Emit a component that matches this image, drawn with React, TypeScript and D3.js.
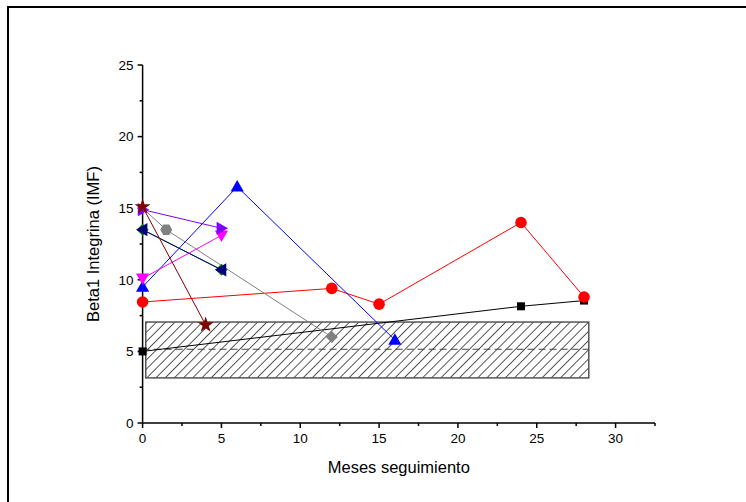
import React from "react";
import * as d3 from "d3";

// series values
const blackX = [0, 24, 28];
const blackY = [5, 8.15, 8.55];
const redX = [0, 12, 15, 24, 28];
const redY = [8.45, 9.4, 8.3, 14, 8.8];
const blueX = [0, 6, 16];
const blueY = [9.5, 16.5, 5.8];
const greenX = [0, 5];
const greenY = [13.5, 10.7];
const navyX = [0, 5];
const navyY = [13.5, 10.7];
const magentaX = [0, 5];
const magentaY = [10.1, 13.1];
const purpleX = [0, 5];
const purpleY = [14.9, 13.6];
const grayX = [0, 1.5, 12];
const grayY = [15, 13.5, 6];
const grayMarks = ["none", "hexagon", "diamond"];
const starX = [0, 4];
const starY = [15.1, 6.85];

// control band
const bandX = [0.2, 28.3];
const bandY = [3.15, 7.05];
const bandMean = 5.15;

const xTicks = [0, 5, 10, 15, 20, 25, 30];
const yTicks = [0, 5, 10, 15, 20, 25];

const W = 746;
const H = 502;

const x = d3.scaleLinear().domain([0, 32.5]).range([142.6, 655]);
const y = d3.scaleLinear().domain([0, 25]).range([423, 65]);

function marker(kind: string, cx: number, cy: number, fill: string, key: string) {
  const s = 6;
  if (kind === "square") return <rect key={key} x={cx - 4} y={cy - 4} width={8} height={8} fill={fill} />;
  if (kind === "circle") return <circle key={key} cx={cx} cy={cy} r={5.8} fill={fill} />;
  if (kind === "none") return null;
  let pts: [number, number][] = [];
  if (kind === "up") pts = [[0, -s * 1.1], [s * 1.1, s * 0.8], [-s * 1.1, s * 0.8]];
  if (kind === "down") pts = [[0, s * 1.1], [s * 1.1, -s * 0.8], [-s * 1.1, -s * 0.8]];
  if (kind === "right") pts = [[s * 1.1, 0], [-s * 0.8, -s * 1.1], [-s * 0.8, s * 1.1]];
  if (kind === "left") pts = [[-s * 1.1, 0], [s * 0.8, -s * 1.1], [s * 0.8, s * 1.1]];
  if (kind === "diamond") pts = [[0, -s], [s, 0], [0, s], [-s, 0]];
  if (kind === "hexagon") pts = d3.range(6).map((i) => [s * Math.cos((Math.PI / 3) * i), s * Math.sin((Math.PI / 3) * i)] as [number, number]);
  if (kind === "star") {
    const sym = d3.symbol(d3.symbolStar, 80)();
    return <path key={key} d={sym || ""} transform={`translate(${cx},${cy})`} fill={fill} />;
  }
  return <polygon key={key} points={pts.map((p) => `${cx + p[0]},${cy + p[1]}`).join(" ")} fill={fill} />;
}

function Series({ xs, ys, color, marks }: { xs: number[]; ys: number[]; color: string; marks: string | string[] }) {
  const line = d3.line<number>().x((_, i) => x(xs[i])).y((d) => y(d));
  return (
    <g>
      <path d={line(ys) || ""} fill="none" stroke={color} strokeWidth={1} />
      {ys.map((v, i) =>
        marker(Array.isArray(marks) ? marks[i] : marks, x(xs[i]), y(v), color, `m${i}`)
      )}
    </g>
  );
}

export default function App() {
  const minorX = d3.range(0, 32.6, 2.5);
  const minorY = d3.range(0, 25.1, 2.5);
  const font = "'Liberation Sans', Arial, sans-serif";
  return (
    <svg width={W} height={H} style={{ position: "absolute", left: 0, top: 0, background: "#fff" }} fontFamily={font}>
      <defs>
        <pattern id="hatch" patternUnits="userSpaceOnUse" width={6.5} height={6.5} patternTransform="rotate(45)">
          <line x1={0} y1={0} x2={0} y2={6.5} stroke="#000" strokeWidth={1.3} />
        </pattern>
      </defs>
      {/* outer frame */}
      <rect x={8} y={7} width={W + 20} height={H + 20} fill="none" stroke="#000" strokeWidth={2} />

      {/* control band */}
      <rect
        x={x(bandX[0])}
        y={y(bandY[1])}
        width={x(bandX[1]) - x(bandX[0])}
        height={y(bandY[0]) - y(bandY[1])}
        fill="url(#hatch)"
        stroke="#555"
        strokeWidth={1.5}
      />
      <line x1={x(0)} x2={x(bandX[1])} y1={y(bandMean)} y2={y(bandMean)} stroke="#444" strokeWidth={1} strokeDasharray="7,4" />

      {/* axes */}
      <g stroke="#000" strokeWidth={1.5}>
        <line x1={x(0)} x2={x(0)} y1={y(0)} y2={y(25)} />
        <line x1={x(0)} x2={x(32.5)} y1={y(0)} y2={y(0)} />
        {minorY.map((t) => (
          <line key={`y${t}`} x1={x(0) - (t % 5 === 0 ? 5 : 3)} x2={x(0)} y1={y(t)} y2={y(t)} />
        ))}
        {minorX.map((t) => (
          <line key={`x${t}`} x1={x(t)} x2={x(t)} y1={y(0)} y2={y(0) + (t % 5 === 0 ? 5 : 3)} />
        ))}
      </g>
      <g fontSize={13.5} fill="#000">
        {yTicks.map((t) => (
          <text key={t} x={x(0) - 9} y={y(t)} dy="0.35em" textAnchor="end">{t}</text>
        ))}
        {xTicks.map((t) => (
          <text key={t} x={x(t)} y={y(0) + 20} textAnchor="middle">{t}</text>
        ))}
      </g>
      <text x={(x(0) + x(32.5)) / 2} y={473} textAnchor="middle" fontSize={16.5}>Meses seguimiento</text>
      <text transform={`translate(99,${y(12.5)}) rotate(-90)`} textAnchor="middle" fontSize={16.5}>Beta1 Integrina (IMF)</text>

      {/* data series */}
      <Series xs={blackX} ys={blackY} color="#000" marks="square" />
      <Series xs={redX} ys={redY} color="#ff0000" marks="circle" />
      <Series xs={grayX} ys={grayY} color="#808080" marks={grayMarks} />
      <Series xs={blueX} ys={blueY} color="#0000ff" marks="up" />
      <Series xs={greenX} ys={greenY} color="#008000" marks="diamond" />
      <Series xs={navyX} ys={navyY} color="#000080" marks="left" />
      <Series xs={magentaX} ys={magentaY} color="#ff00ff" marks="down" />
      <Series xs={purpleX} ys={purpleY} color="#8000ff" marks="right" />
      <Series xs={starX} ys={starY} color="#800000" marks="star" />
    </svg>
  );
}
